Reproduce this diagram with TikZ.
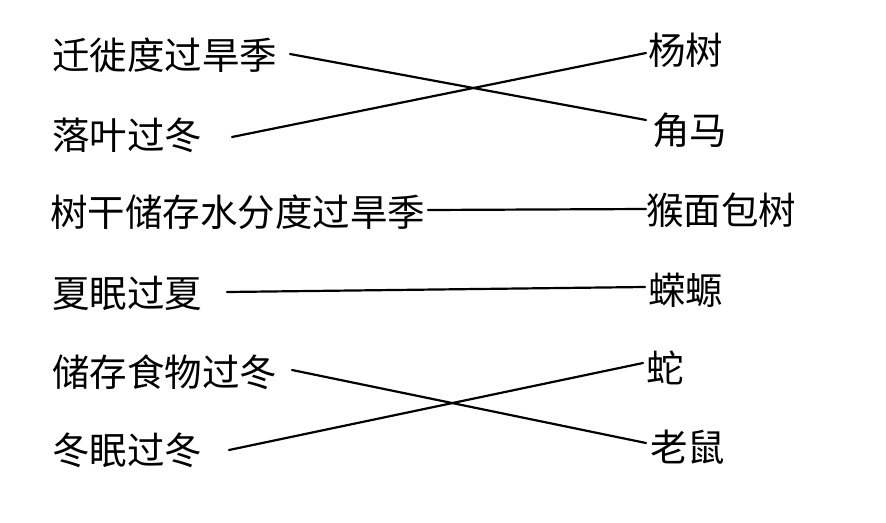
\documentclass[tikz,border=0pt]{standalone}
\usepackage{fontspec}
\newfontfamily\cjk{Noto Sans CJK SC}[Scale=1]
\begin{document}
\begin{tikzpicture}[x=1pt,y=-1pt,
  lab/.style={font=\cjk\fontsize{37.5}{42}\selectfont, anchor=west, inner sep=0pt},
  link/.style={line width=2.2pt, line cap=round}]
\useasboundingbox[fill=white] (0,0) rectangle (886,522);
% left items
\node[lab] (l1) at (52,55) {迁徙度过旱季};
\node[lab] (l2) at (52,135) {落叶过冬};
\node[lab] (l3) at (50,212) {树干储存水分度过旱季};
\node[lab] (l4) at (52,293) {夏眠过夏};
\node[lab] (l5) at (52,372) {储存食物过冬};
\node[lab] (l6) at (52,450) {冬眠过冬};
% right items
\node[lab] (r1) at (648,50) {杨树};
\node[lab] (r2) at (652,130) {角马};
\node[lab] (r3) at (646,210) {猴面包树};
\node[lab] (r4) at (648,290) {蝾螈};
\node[lab] (r5) at (646,368) {蛇};
\node[lab] (r6) at (650,447) {老鼠};
% connector ends
\coordinate (a1) at (290,54);
\coordinate (a2) at (232,137);
\coordinate (a3) at (428,210);
\coordinate (a4) at (227,292);
\coordinate (a5) at (292,370);
\coordinate (a6) at (229,450);
\coordinate (b1) at (646,53);
\coordinate (b2) at (646,120);
\coordinate (b3) at (646,209);
\coordinate (b4) at (645,287);
\coordinate (b5) at (646,443);
\coordinate (b6) at (643,363);
\draw[link] (a1) -- (b2);
\draw[link] (a2) -- (b1);
\draw[link] (a3) -- (b3);
\draw[link] (a4) -- (b4);
\draw[link] (a5) -- (b5);
\draw[link] (a6) -- (b6);
\end{tikzpicture}
\end{document}
